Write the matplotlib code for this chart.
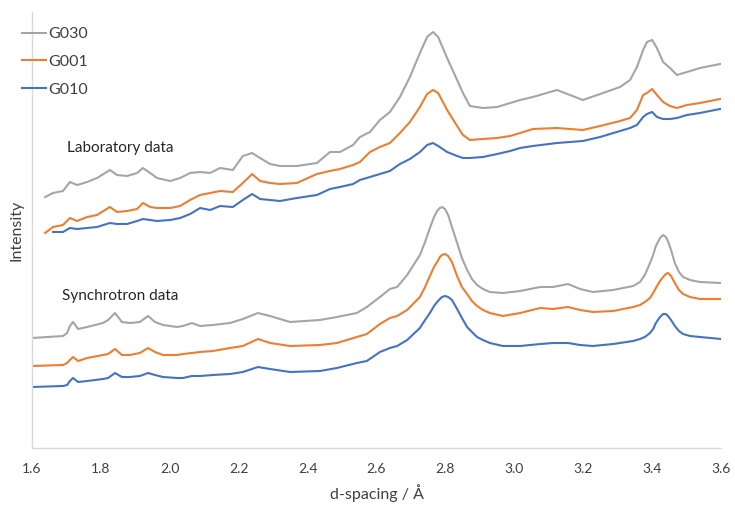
import matplotlib.pyplot as plt
import numpy as np

plt.rcParams['font.family'] = ['Lato', 'DejaVu Sans']

# laboratory data (noisy), d-spacing in angstrom
lab_d = [1.638, 1.661, 1.690, 1.710, 1.731, 1.760, 1.789, 1.826, 1.847, 1.876,
         1.905, 1.922, 1.943, 1.963, 2.001, 2.030, 2.059, 2.088, 2.117, 2.146,
         2.183, 2.212, 2.239, 2.262, 2.291, 2.320, 2.369, 2.427, 2.465, 2.494,
         2.532, 2.552, 2.581, 2.610, 2.639, 2.668, 2.697, 2.726, 2.747, 2.764,
         2.779, 2.805, 2.834, 2.851, 2.871, 2.909, 2.950, 2.988, 3.017, 3.054,
         3.124, 3.199, 3.249, 3.307, 3.336, 3.356, 3.374, 3.385, 3.400, 3.414,
         3.432, 3.452, 3.472, 3.501, 3.539, 3.568, 3.597]
lab_g030 = [251, 255, 257, 266, 263, 266, 270, 278, 273, 272,
            275, 280, 275, 270, 267, 270, 275, 276, 275, 280,
            278, 292, 295, 290, 284, 282, 282, 285, 296, 296,
            303, 311, 316, 328, 336, 351, 371, 395, 411, 416,
            411, 390, 368, 355, 342, 340, 341, 345, 348, 351,
            358, 348, 354, 361, 368, 381, 398, 406, 408, 400,
            386, 380, 373, 376, 380, 382, 384]
lab_g001 = [215, 221, 223, 230, 227, 231, 233, 241, 236, 237,
            239, 245, 241, 240, 240, 242, 248, 253, 255, 257,
            256, 265, 274, 267, 265, 264, 265, 274, 277, 279,
            283, 286, 296, 301, 305, 315, 326, 341, 354, 358,
            355, 338, 322, 313, 308, 309, 310, 312, 315, 319,
            320, 318, 322, 327, 330, 338, 353, 355, 359, 353,
            346, 342, 340, 343, 345, 347, 349]
lab_g010 = [np.nan, 216, 216, 220, 219, 220, 221, 225, 224, 224,
            227, 229, 228, 227, 228, 230, 234, 240, 238, 242,
            241, 248, 254, 249, 248, 247, 250, 253, 259, 261,
            264, 268, 271, 274, 277, 284, 289, 296, 303, 305,
            302, 296, 292, 290, 290, 291, 294, 297, 300, 302,
            305, 307, 311, 317, 320, 323, 331, 334, 336, 331,
            329, 329, 330, 333, 335, 337, 339]

# synchrotron data (smooth)
syn_d = [1.600, 1.690, 1.702, 1.710, 1.719, 1.734, 1.760, 1.806, 1.821, 1.841,
         1.861, 1.884, 1.913, 1.937, 1.957, 1.980, 2.021, 2.038, 2.064, 2.088,
         2.125, 2.175, 2.212, 2.256, 2.291, 2.349, 2.436, 2.485, 2.543, 2.572,
         2.610, 2.639, 2.660, 2.689,
         2.726, 2.741, 2.755, 2.767, 2.776, 2.784, 2.790, 2.799, 2.808, 2.819,
         2.834, 2.848, 2.863, 2.877, 2.892, 2.909, 2.929,
         2.967, 3.017, 3.075, 3.112, 3.156, 3.191, 3.228, 3.287,
         3.345, 3.365, 3.379, 3.394, 3.403, 3.411, 3.423, 3.432, 3.440, 3.446,
         3.455, 3.466, 3.478, 3.490, 3.510, 3.539,
         3.600]
syn_g030 = [110, 112, 115, 122, 126, 119, 121, 125, 128, 135,
            126, 125, 126, 132, 126, 123, 121, 122, 125, 122,
            123, 125, 129, 135, 132, 126, 128, 131, 135, 141,
            151, 159, 161, 173,
            193, 206, 220, 231, 237, 240, 241, 239, 233, 221,
            205, 190, 178, 169, 163, 159, 156,
            155, 157, 161, 161, 164, 159, 156, 158,
            162, 166, 173, 185, 193, 202, 210, 213, 211, 207,
            198, 185, 176, 171, 168, 166,
            165]
syn_g001 = [82, 83, 85, 88, 91, 87, 90, 93, 94, 99,
            93, 93, 95, 100, 96, 93, 93, 94, 95, 96,
            97, 100, 102, 109, 105, 102, 103, 105, 111, 114,
            124, 130, 132, 138,
            151, 161, 172, 181, 186, 191, 193, 194, 192, 186,
            172, 161, 154, 147, 142, 138, 135,
            132, 135, 140, 139, 141, 138, 136, 137,
            141, 143, 146, 150, 155, 160, 167, 171, 174, 175,
            172, 165, 158, 154, 151, 149,
            149]
syn_g010 = [61, 62, 63, 67, 70, 66, 67, 69, 70, 75,
            71, 71, 72, 75, 73, 71, 70, 70, 72, 72,
            73, 74, 76, 81, 79, 76, 77, 80, 85, 87,
            96, 100, 102, 108,
            120, 128, 135, 142, 146, 149, 151, 152, 151, 148,
            139, 130, 121, 116, 111, 108, 105,
            102, 102, 104, 105, 105, 103, 102, 104,
            107, 109, 111, 115, 119, 125, 131, 134, 134, 132,
            128, 122, 117, 114, 112, 111,
            109]

samples = ['G030', 'G001', 'G010']
colors = ['#A5A5A5', '#ED7D31', '#4472C4']
lab = [lab_g030, lab_g001, lab_g010]
syn = [syn_g030, syn_g001, syn_g010]

fig = plt.figure(figsize=(7.35, 5.05), dpi=100)
ax = fig.add_axes([32/735, 1-448/505, 689/735, 436/505])

for name, col, yl, ys in zip(samples, colors, lab, syn):
    ax.plot(lab_d, yl, color=col, lw=1.5, label=name)
    ax.plot(syn_d, ys, color=col, lw=1.5)

ax.set_xlim(1.6, 3.6)
ax.set_ylim(0, 436)
ax.set_xticks(np.arange(1.6, 3.61, 0.2))
ax.set_xticklabels([f'{v:.1f}' for v in np.arange(1.6, 3.61, 0.2)])
ax.set_yticks([])
ax.tick_params(axis='x', length=0, pad=11, labelsize=10, colors='#404040')
for s in ['top', 'right']:
    ax.spines[s].set_visible(False)
for s in ['left', 'bottom']:
    ax.spines[s].set_color('#D9D9D9')
    ax.spines[s].set_linewidth(1)

ax.set_xlabel('d-spacing / Å', fontsize=11.5, color='#404040', labelpad=6)
ax.set_ylabel('Intensity', fontsize=11.5, color='#404040', labelpad=6)

ax.text(1.702, 300, 'Laboratory data', fontsize=11, va='center', color='#262626')
ax.text(1.687, 152, 'Synchrotron data', fontsize=11, va='center', color='#262626')

ax.legend(loc='upper left', bbox_to_anchor=(22/735, 1-27/505),
          bbox_transform=fig.transFigure, frameon=False, fontsize=11.5,
          handlelength=1.5, handletextpad=0.15, labelspacing=0.85,
          borderpad=0, borderaxespad=0, labelcolor='#404040')

fig.savefig('out.png', dpi=100)
